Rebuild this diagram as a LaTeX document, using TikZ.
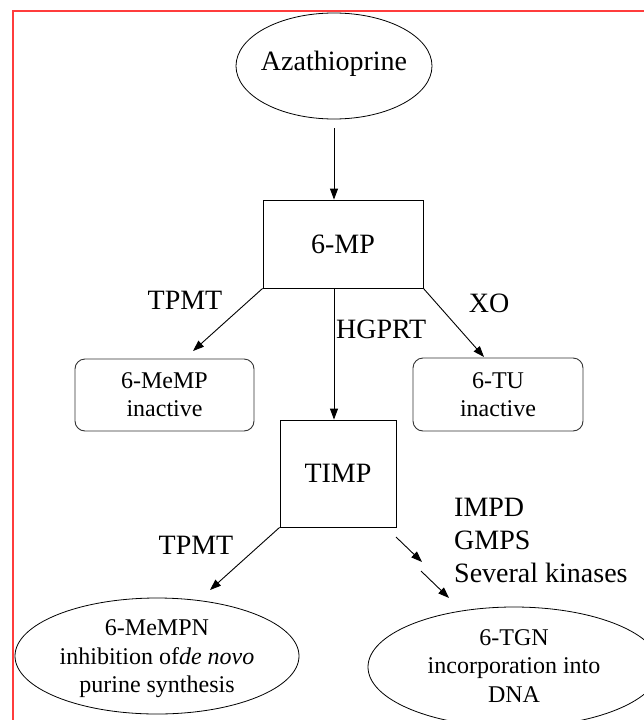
\documentclass[tikz,border=0pt]{standalone}
\usepackage{fontspec}
\setmainfont{Liberation Serif}
\usetikzlibrary{shapes.geometric,arrows.meta,calc}
\definecolor{frame}{RGB}{255,60,60}
\begin{document}
\begin{tikzpicture}[x=1pt,y=-1pt,
  conn/.style={-{Triangle[length=11pt,width=8pt]}, line width=0.9pt},
  lbl/.style={font=\fontsize{28}{33}\selectfont, inner sep=0pt},
  sqbox/.style={draw, line width=0.9pt, rectangle, inner sep=0pt, font=\fontsize{28}{33}\selectfont},
  rbox/.style={draw=black!80, line width=0.9pt, rectangle, rounded corners=10pt, inner sep=0pt, align=center, font=\fontsize{24}{28}\selectfont},
  oval/.style={draw, line width=0.8pt, ellipse, inner sep=0pt},
  ovaltext/.style={align=center, inner sep=0pt, font=\fontsize{24}{28.5}\selectfont}]
\useasboundingbox (0,0) rectangle (644,720);
% frame
\draw[frame, line width=2pt] (13,721) -- (13,11) -- (645,11);

% nodes
\node[oval, minimum width=196pt, minimum height=106pt] (aza) at (334,66) {};
\node[lbl] (azat) at (334,64) {Azathioprine};

\node[sqbox, minimum width=160pt, minimum height=88pt] (mp) at (343,244) {6-MP};
\node[rbox, minimum width=179pt, minimum height=72pt] (memp) at (164.5,395) {6-MeMP\\inactive};
\node[rbox, minimum width=170pt, minimum height=73pt] (tu) at (498,394.5) {6-TU\\inactive};
\node[sqbox, minimum width=116pt, minimum height=107pt] (timp) at (338,473.5) {TIMP};

\node[oval, minimum width=284pt, minimum height=116pt] (mempn) at (157,656) {};
\node[ovaltext] (mempnt) at (157,659) {6-MeMPN\\inhibition of\textit{de novo}\\purine synthesis};
\node[oval, minimum width=292pt, minimum height=120pt] (tgn) at (514,667) {};
\node[ovaltext] (tgnt) at (514,666) {6-TGN\\incorporation into\\DNA};

% labels
\node[lbl] (l1) at (185,300) {TPMT};
\node[lbl, anchor=west] (l2) at (336,329) {HGPRT};
\node[lbl] (l3) at (489,303) {XO};
\node[lbl] (l4) at (196,545) {TPMT};
\node[lbl, anchor=west, align=left] (l5) at (454,540) {IMPD\\GMPS\\Several kinases};

% connector end points
\coordinate (e1) at (193,351);
\coordinate (e2) at (484,357);
\coordinate (e3) at (210,590);
\coordinate (s4) at (396,537);
\coordinate (e4) at (422,562);
\coordinate (s5) at (421,571);
\coordinate (e5) at (449,598);

% connectors
\draw[conn] ($(aza.south)+(0,9)$) -- (aza.south |- mp.north);
\draw[conn] (mp.south west) -- (e1);
\draw[conn] (mp.south east) -- (e2);
\draw[conn] (aza.south |- mp.south) -- (aza.south |- timp.north);
\draw[conn] (timp.south west) -- (e3);
\draw[conn] (s4) -- (e4);
\draw[conn] (s5) -- (e5);
\end{tikzpicture}
\end{document}
